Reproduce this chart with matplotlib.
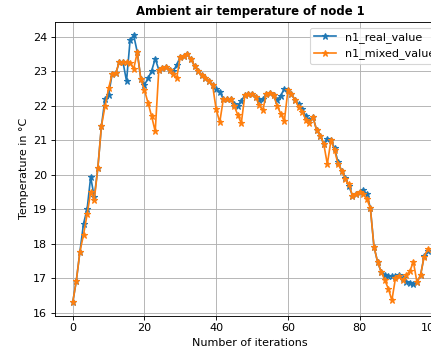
import matplotlib
matplotlib.use("Agg")
import matplotlib.pyplot as plt
import numpy as np

# readings of node 1, one value per iteration
iterations = np.arange(100)

n1_real_value = [
    16.30, 16.93, 17.77, 18.58, 19.00, 19.94, 19.35, 20.20, 21.42, 22.21,
    22.33, 22.93, 22.95, 23.28, 23.28, 22.72, 23.92, 24.05, 23.56, 22.77,
    22.61, 22.80, 23.02, 23.37, 23.05, 23.10, 23.12, 23.05, 23.00, 23.20,
    23.42, 23.45, 23.50, 23.35, 23.15, 23.00, 22.90, 22.82, 22.72, 22.60,
    22.49, 22.41, 22.20, 22.20, 22.20, 22.05, 22.00, 22.15, 22.31, 22.36,
    22.35, 22.26, 22.17, 22.20, 22.34, 22.38, 22.32, 22.17, 22.30, 22.50,
    22.45, 22.35, 22.17, 22.05, 21.90, 21.70, 21.58, 21.68, 21.30, 21.14,
    20.90, 21.05, 21.00, 20.78, 20.36, 20.12, 19.90, 19.68, 19.40, 19.45,
    19.50, 19.55, 19.45, 19.04, 17.92, 17.48, 17.19, 17.10, 17.07, 17.05,
    17.05, 17.08, 17.00, 16.90, 16.85, 16.82, 16.88, 17.09, 17.64, 17.78,
]

n1_mixed_value = [
    16.30, 16.93, 17.77, 18.26, 18.85, 19.50, 19.27, 20.20, 21.42, 21.99,
    22.51, 22.93, 22.95, 23.28, 23.28, 23.27, 23.25, 23.08, 23.56, 22.77,
    22.46, 22.09, 21.70, 21.26, 23.05, 23.10, 23.12, 23.05, 22.92, 22.82,
    23.42, 23.45, 23.50, 23.35, 23.15, 23.00, 22.90, 22.82, 22.72, 22.60,
    21.90, 21.53, 22.20, 22.20, 22.20, 22.00, 21.75, 21.50, 22.31, 22.36,
    22.35, 22.26, 22.02, 21.88, 22.34, 22.38, 22.32, 22.00, 21.78, 21.55,
    22.45, 22.35, 22.17, 21.97, 21.83, 21.60, 21.50, 21.68, 21.30, 21.14,
    20.90, 20.31, 21.00, 20.72, 20.31, 20.12, 19.87, 19.73, 19.40, 19.45,
    19.50, 19.45, 19.30, 19.04, 17.92, 17.48, 17.19, 16.95, 16.70, 16.36,
    17.00, 17.05, 16.95, 17.09, 17.20, 17.48, 16.88, 17.09, 17.63, 17.85,
]

# reference looks like a scaled-down screenshot, so draw at a lower dpi
dpi = 80
fig = plt.figure(figsize=(431 / dpi, 351 / dpi), dpi=dpi)
# axes run past the right edge, the original picture was cropped there
ax = fig.add_axes([0.1276, 0.1006, 0.906, 0.8368])

ax.plot(iterations, n1_real_value, marker='*', label='n1_real_value')
ax.plot(iterations, n1_mixed_value, marker='*', label='n1_mixed_value')

ax.set_title("Ambient air temperature of node 1", fontweight='bold', fontsize=10.5)
ax.set_xlabel("Number of iterations")
ax.set_ylabel("Temperature in °C")
ax.grid(True)
ax.legend(loc='upper right')

fig.savefig('out.png', dpi=dpi)
